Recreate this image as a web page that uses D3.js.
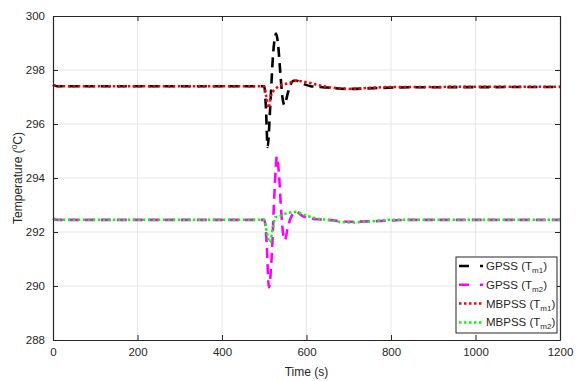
<!DOCTYPE html>
<html>
<head>
<meta charset="utf-8">
<script src="https://cdn.jsdelivr.net/npm/d3@7"></script>
<style>
    body { margin: 0; background: #fff; }
    text { font-family: "Liberation Sans", Arial, sans-serif; fill: #262626; }
</style>
</head>
<body>
<div id="chart"></div>
<script>
// values
const xTicks = [0, 200, 400, 600, 800, 1000, 1200];
const yTicks = [288, 290, 292, 294, 296, 298, 300];

const gpssM1T = [0, 10, 500, 504, 508, 514, 521, 528, 533, 538, 543, 548, 555, 562, 570, 577, 590, 610, 650, 700, 760, 850, 1200];
const gpssM1V = [297.45, 297.4, 297.4, 296.6, 295.15, 296.6, 298.6, 299.35, 298.9, 297.9, 297.0, 296.7, 297.1, 297.45, 297.6, 297.6, 297.5, 297.4, 297.35, 297.3, 297.33, 297.36, 297.37];

const gpssM2T = [0, 10, 500, 505, 511, 518, 524, 530, 535, 540, 545, 549, 556, 565, 575, 590, 610, 650, 700, 760, 850, 1200];
const gpssM2V = [292.5, 292.45, 292.45, 291.8, 289.95, 291.2, 293.4, 294.8, 294.1, 292.8, 291.9, 291.7, 292.2, 292.6, 292.75, 292.6, 292.5, 292.45, 292.38, 292.4, 292.45, 292.45];

const mbpssM1T = [0, 10, 500, 505, 510, 517, 527, 540, 555, 575, 600, 625, 650, 680, 700, 740, 800, 1200];
const mbpssM1V = [297.45, 297.4, 297.4, 297.0, 296.6, 297.1, 297.3, 297.45, 297.5, 297.6, 297.55, 297.45, 297.37, 297.32, 297.3, 297.33, 297.37, 297.38];

const mbpssM2T = [0, 10, 500, 506, 513, 521, 526, 535, 550, 575, 600, 625, 650, 680, 700, 740, 800, 1200];
const mbpssM2V = [292.5, 292.45, 292.45, 292.0, 291.62, 292.2, 292.55, 292.58, 292.68, 292.74, 292.6, 292.5, 292.45, 292.38, 292.35, 292.38, 292.45, 292.45];

const series = [
    { name: 'GPSS', sub: 'm1', t: gpssM1T, v: gpssM1V, color: '#000000', dash: '10,6', legendDash: '10,11', width: 2.6 },
    { name: 'GPSS', sub: 'm2', t: gpssM2T, v: gpssM2V, color: '#ff00ff', dash: '10,6', legendDash: '10,11', width: 2.6 },
    { name: 'MBPSS', sub: 'm1', t: mbpssM1T, v: mbpssM1V, color: '#ff0000', dash: '2.5,2.5', legendDash: '2.5,2.5', width: 2.5 },
    { name: 'MBPSS', sub: 'm2', t: mbpssM2T, v: mbpssM2V, color: '#00ff00', dash: '2.5,2.5', legendDash: '2.5,2.5', width: 2.5 }
];

const width = 582, height = 381;
const margin = { top: 16, right: 22, bottom: 41, left: 53 };
const innerW = width - margin.left - margin.right;
const innerH = height - margin.top - margin.bottom;

const svg = d3.select('#chart').append('svg')
    .attr('width', width)
    .attr('height', height);

const g = svg.append('g')
    .attr('transform', `translate(${margin.left},${margin.top})`);

const x = d3.scaleLinear().domain([0, 1200]).range([0, innerW]);
const y = d3.scaleLinear().domain([288, 300]).range([innerH, 0]);

// grid
g.append('g').selectAll('line.gx')
    .data(xTicks.slice(1, -1))
    .join('line')
    .attr('x1', d => x(d)).attr('x2', d => x(d))
    .attr('y1', 0).attr('y2', innerH)
    .attr('stroke', '#e6e6e6').attr('stroke-width', 1);

g.append('g').selectAll('line.gy')
    .data(yTicks.slice(1, -1))
    .join('line')
    .attr('x1', 0).attr('x2', innerW)
    .attr('y1', d => y(d)).attr('y2', d => y(d))
    .attr('stroke', '#e6e6e6').attr('stroke-width', 1);

// lines
const line = d3.line()
    .x(d => x(d[0]))
    .y(d => y(d[1]))
    .curve(d3.curveMonotoneX);

series.forEach(s => {
    const pts = s.t.map((t, i) => [t, s.v[i]]);
    g.append('path')
        .datum(pts)
        .attr('fill', 'none')
        .attr('stroke', s.color)
        .attr('stroke-width', s.width)
        .attr('stroke-dasharray', s.dash)
        .attr('d', line);
});

// axes (box on, ticks inside)
const fmt = d3.format('d');
g.append('g')
    .attr('transform', `translate(0,${innerH})`)
    .call(d3.axisBottom(x).tickValues(xTicks).tickFormat(fmt).tickSizeInner(-5).tickSizeOuter(0).tickPadding(8));
g.append('g')
    .call(d3.axisLeft(y).tickValues(yTicks).tickFormat(fmt).tickSizeInner(-5).tickSizeOuter(0).tickPadding(8));
g.append('g')
    .call(d3.axisTop(x).tickValues(xTicks).tickSizeInner(-5).tickSizeOuter(0).tickFormat(''));
g.append('g')
    .attr('transform', `translate(${innerW},0)`)
    .call(d3.axisRight(y).tickValues(yTicks).tickSizeInner(-5).tickSizeOuter(0).tickFormat(''));

g.selectAll('.domain').attr('stroke', '#262626').attr('stroke-width', 1.2);
g.selectAll('.tick line').attr('stroke', '#262626');
g.selectAll('.tick text').style('font-size', '11.5px').attr('fill', '#262626');

// axis labels
svg.append('text')
    .attr('x', margin.left + innerW / 2)
    .attr('y', 376)
    .attr('text-anchor', 'middle')
    .style('font-size', '12px')
    .text('Time (s)');

const yLabel = svg.append('text')
    .attr('transform', `translate(22,${margin.top + innerH / 2}) rotate(-90)`)
    .attr('text-anchor', 'middle')
    .style('font-size', '12px');
yLabel.append('tspan').text('Temperature (');
yLabel.append('tspan').attr('dy', -5).style('font-size', '8px').text('0');
yLabel.append('tspan').attr('dy', 5).text('C)');

// legend
const legend = svg.append('g').attr('transform', 'translate(456,257)');
legend.append('rect')
    .attr('width', 101).attr('height', 76)
    .attr('fill', '#fff')
    .attr('stroke', '#262626').attr('stroke-width', 1);

series.forEach((s, i) => {
    const ly = 9 + i * 18.8;
    legend.append('line')
        .attr('x1', 3).attr('x2', 27)
        .attr('y1', ly).attr('y2', ly)
        .attr('stroke', s.color)
        .attr('stroke-width', s.width)
        .attr('stroke-dasharray', s.legendDash);
    const t = legend.append('text')
        .attr('x', 30).attr('y', ly + 4)
        .style('font-size', '11.5px');
    t.append('tspan').text(s.name + ' (T');
    t.append('tspan').attr('dy', 3).style('font-size', '8px').text(s.sub);
    t.append('tspan').attr('dy', -3).text(')');
});
</script>
</body>
</html>
